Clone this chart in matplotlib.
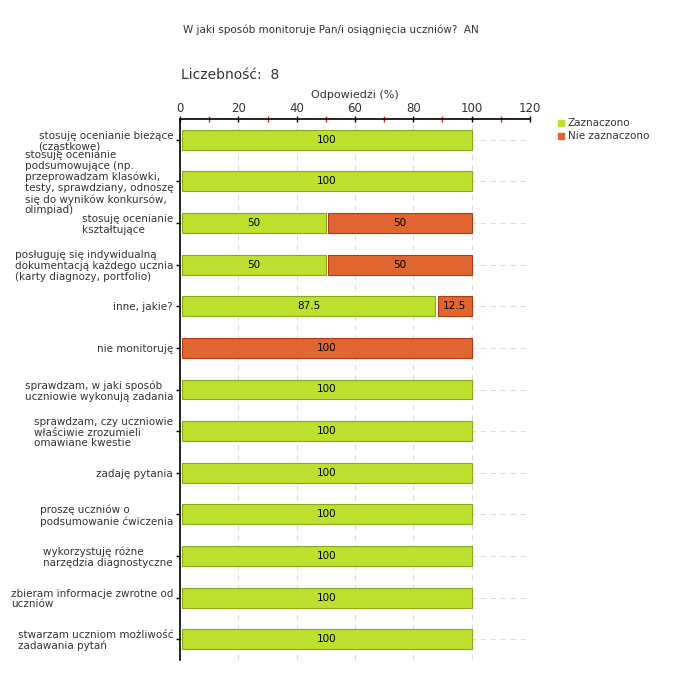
import numpy as np
import matplotlib.pyplot as plt
from matplotlib.ticker import MultipleLocator

# Dane
kategorie = [
    "stosuję ocenianie bieżące\n(cząstkowe)",
    "stosuję ocenianie\npodsumowujące (np.\nprzeprowadzam klasówki,\ntesty, sprawdziany, odnoszę\nsię do wyników konkursów,\nolimpiad)",
    "stosuję ocenianie\nkształtujące",
    "posługuję się indywidualną\ndokumentacją każdego ucznia\n(karty diagnozy, portfolio)",
    "inne, jakie?",
    "nie monitoruję",
    "sprawdzam, w jaki sposób\nuczniowie wykonują zadania",
    "sprawdzam, czy uczniowie\nwłaściwie zrozumieli\nomawiane kwestie",
    "zadaję pytania",
    "proszę uczniów o\npodsumowanie ćwiczenia",
    "wykorzystuję różne\nnarzędzia diagnostyczne",
    "zbieram informacje zwrotne od\nuczniów",
    "stwarzam uczniom możliwość\nzadawania pytań",
]
zaznaczono = [100, 100, 50, 50, 87.5, 0, 100, 100, 100, 100, 100, 100, 100]
nie_zaznaczono = [0, 0, 50, 50, 12.5, 100, 0, 0, 0, 0, 0, 0, 0]

kolor_z = "#bde02f"
kolor_z_kraw = "#86a81c"
kolor_n = "#e06530"
kolor_n_kraw = "#b13a12"
tekst = "#333333"

fig = plt.figure(figsize=(6.8, 6.8), dpi=100)
ax = fig.add_axes([180 / 680, 1 - 660 / 680, 350 / 680, 541 / 680])

y = np.arange(len(kategorie))
wys = 0.48
przerwa = 0.8

for i in y:
    z = zaznaczono[i]
    n = nie_zaznaczono[i]
    if z > 0:
        ax.barh(i, z - przerwa, left=przerwa, height=wys, color=kolor_z,
                edgecolor=kolor_z_kraw, linewidth=0.8, zorder=3)
        ax.text(przerwa / 2 + z / 2, i, f"{z:g}", ha="center", va="center",
                fontsize=7.5, color="black", zorder=4)
    if n > 0:
        start = z + przerwa
        ax.barh(i, n - przerwa, left=start, height=wys, color=kolor_n,
                edgecolor=kolor_n_kraw, linewidth=0.8, zorder=3)
        ax.text(start / 2 + (z + n) / 2, i, f"{n:g}", ha="center", va="center",
                fontsize=7.5, color="black", zorder=4)

ax.set_xlim(0, 120)
ax.set_ylim(len(kategorie) - 0.5, -0.5)

ax.xaxis.tick_top()
ax.xaxis.set_label_position("top")
ax.xaxis.set_major_locator(MultipleLocator(20))
ax.xaxis.set_minor_locator(MultipleLocator(10))
ax.tick_params(axis="x", which="major", direction="inout", length=5, width=1,
               color="black", labelsize=8.5, labelcolor=tekst, pad=0.5)
ax.tick_params(axis="x", which="minor", direction="inout", length=4, width=1,
               color="#dd2222")
ax.set_xlabel("Odpowiedzi (%)", fontsize=8, color=tekst, labelpad=3)

ax.set_yticks(y)
ax.set_yticklabels(kategorie, fontsize=7.5, color=tekst, multialignment="left",
                   linespacing=1.1)
ax.tick_params(axis="y", length=3, width=1, color="black", pad=2)

ax.grid(True, axis="both", which="major", linestyle=(0, (5, 4)),
        color="#dddddd", linewidth=0.8, zorder=0)
ax.set_axisbelow(True)

for s in ["right", "bottom"]:
    ax.spines[s].set_visible(False)
ax.spines["top"].set_linewidth(1.2)
ax.spines["left"].set_linewidth(1.2)

fig.text(183 / 680, 1 - 30 / 680, "W jaki sposób monitoruje Pan/i osiągnięcia uczniów?  AN",
         fontsize=7.5, color=tekst, va="center", ha="left")
fig.text(181 / 680, 1 - 75 / 680, "Liczebność:  8", fontsize=10, color=tekst,
         va="center", ha="left")

# Legenda
for k, (etykieta, kol) in enumerate([("Zaznaczono", kolor_z), ("Nie zaznaczono", kolor_n)]):
    yy = 1 - (123 + 13 * k) / 680
    fig.patches.append(plt.Rectangle((558 / 680, yy - 3 / 680), 6 / 680, 6 / 680,
                                     transform=fig.transFigure, color=kol))
    fig.text(568 / 680, yy, etykieta, fontsize=7.5, color=tekst, va="center", ha="left")

fig.savefig("out.png", dpi=100)
